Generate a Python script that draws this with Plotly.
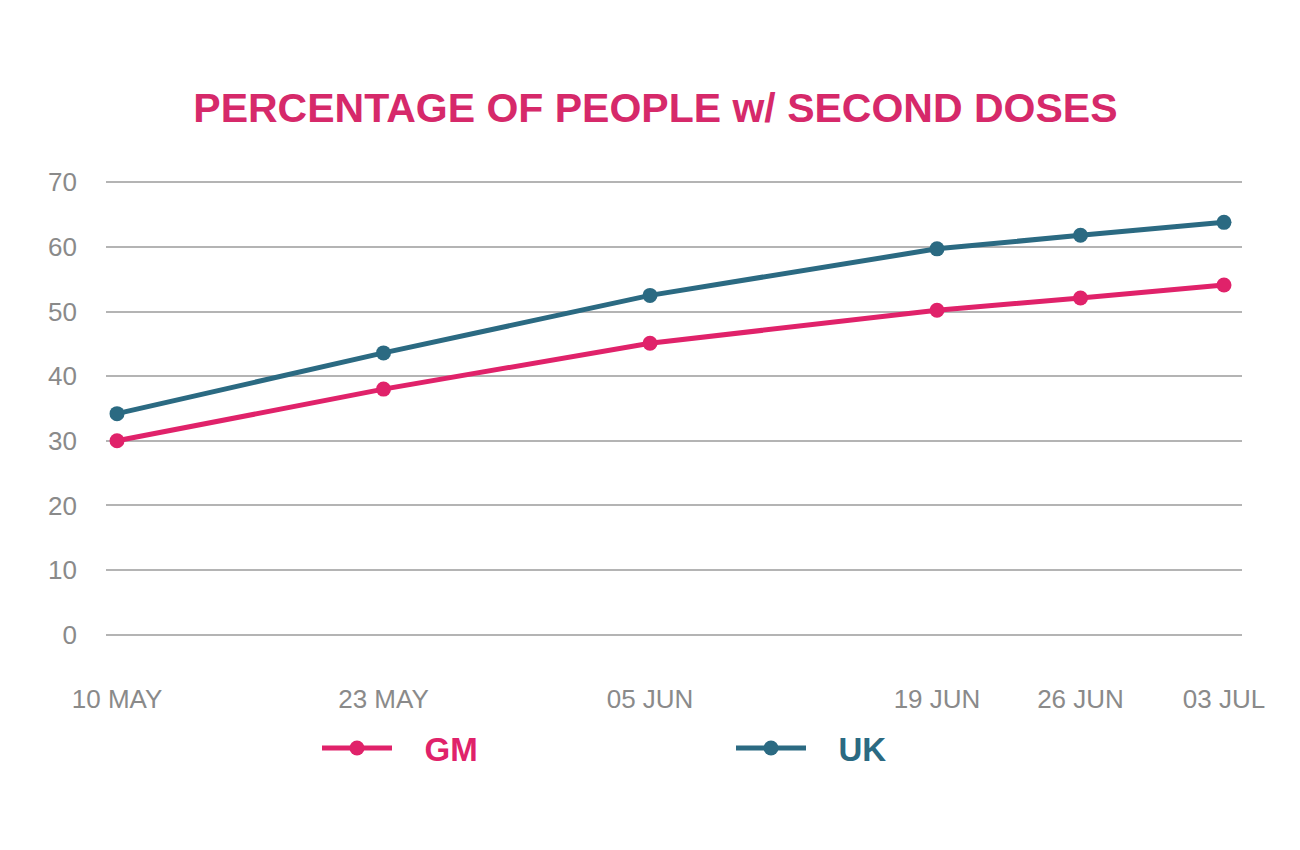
import plotly.graph_objects as go

dates = ["2021-05-10", "2021-05-23", "2021-06-05", "2021-06-19", "2021-06-26", "2021-07-03"]
tick_labels = ["10 MAY", "23 MAY", "05 JUN", "19 JUN", "26 JUN", "03 JUL"]
gm_values = [30.0, 38.0, 45.1, 50.2, 52.1, 54.1]
uk_values = [34.2, 43.6, 52.5, 59.7, 61.8, 63.8]
y_ticks = [0, 10, 20, 30, 40, 50, 60, 70]

GM_COLOR = "#e0226a"
UK_COLOR = "#2b6a82"
TITLE_COLOR = "#d6296a"
TICK_COLOR = "#8a8a8a"
GRID_COLOR = "#b4b4b4"
FONT = "Liberation Sans, Arial, sans-serif"

fig = go.Figure()
fig.add_trace(go.Scatter(
    x=dates, y=gm_values, mode="lines+markers",
    name=f'<b><span style="color:{GM_COLOR}">&nbsp;&nbsp;&nbsp;GM</span></b>',
    line=dict(color=GM_COLOR, width=5),
    marker=dict(color=GM_COLOR, size=15),
))
fig.add_trace(go.Scatter(
    x=dates, y=uk_values, mode="lines+markers",
    name=f'<b><span style="color:{UK_COLOR}">&nbsp;&nbsp;&nbsp;UK</span></b>',
    line=dict(color=UK_COLOR, width=5),
    marker=dict(color=UK_COLOR, size=15),
))

fig.update_layout(
    width=1300, height=850,
    paper_bgcolor="white", plot_bgcolor="white",
    margin=dict(l=98, r=66, t=172, b=221, autoexpand=False),
    font=dict(family=FONT, color=TICK_COLOR),
    title=dict(
        text="<b>PERCENTAGE OF PEOPLE w/ SECOND DOSES</b>",
        font=dict(size=41, color=TITLE_COLOR, family=FONT),
        x=0.498, xanchor="center", xref="container",
        y=1 - 100 / 850, yanchor="middle", yref="container",
    ),
    showlegend=True,
    legend=dict(
        orientation="h",
        xref="container", yref="container",
        x=309 / 1300, xanchor="left",
        y=1 - 740 / 850, yanchor="middle",
        entrywidth=329, entrywidthmode="pixels",
        itemwidth=70,
        font=dict(size=33, family=FONT),
        bgcolor="rgba(0,0,0,0)",
    ),
)

fig.update_xaxes(
    type="date",
    range=["2021-05-09 11:06", "2021-07-03 21:05"],
    tickvals=dates, ticktext=tick_labels,
    showgrid=False, zeroline=False, showline=False, automargin=False,
    ticks="", tickfont=dict(size=26, color=TICK_COLOR),
    ticklabelstandoff=44,
)
fig.update_yaxes(
    range=[-0.35, 70.35], tickvals=y_ticks,
    showgrid=True, gridcolor=GRID_COLOR, gridwidth=1.5,
    zeroline=False, showline=False, ticks="", automargin=False,
    tickfont=dict(size=26, color=TICK_COLOR),
    ticklabelstandoff=28,
)

fig.write_html("out.html")
